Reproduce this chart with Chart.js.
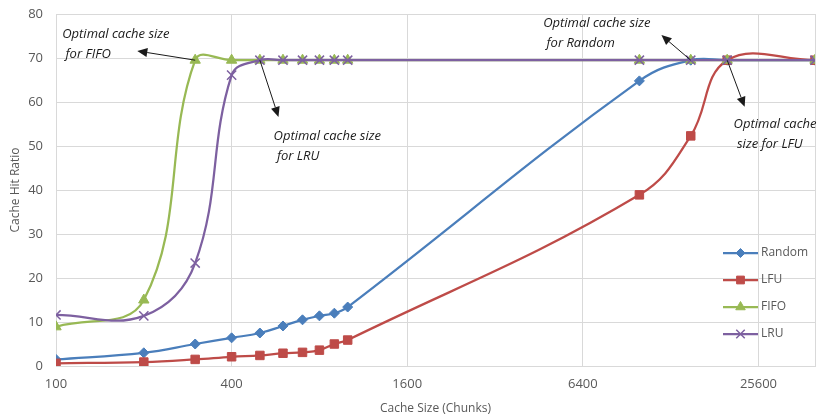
<!DOCTYPE html>
<html>
<head>
<meta charset="utf-8">
<script src="https://cdn.jsdelivr.net/npm/chart.js@4.4.0/dist/chart.umd.min.js"></script>
<style>
  html, body { margin: 0; padding: 0; background: #fff; }
  #wrap { width: 827px; height: 417px; }
</style>
</head>
<body>
<div id="wrap"><canvas id="hitChart" width="827" height="417"></canvas></div>
<script>
// data
const cacheSizes = [100, 200, 300, 400, 500, 600, 700, 800, 900, 1000, 10000, 15000, 20000, 40000];
const randomHits = [1.5, 3.0, 5.0, 6.4, 7.5, 9.1, 10.5, 11.4, 12.0, 13.4, 64.8, 69.5, 69.5, 69.5];
const lfuHits    = [0.6, 0.9, 1.5, 2.1, 2.4, 2.9, 3.1, 3.6, 5.0, 5.9, 38.9, 52.3, 69.5, 69.5];
const fifoHits   = [8.9, 15.0, 69.5, 69.5, 69.5, 69.5, 69.5, 69.5, 69.5, 69.5, 69.5, 69.5, 69.5, 69.5];
const lruHits    = [11.6, 11.4, 23.4, 66.1, 69.5, 69.5, 69.5, 69.5, 69.5, 69.5, 69.5, 69.5, 69.5, 69.5];
const seriesNames = ['Random', 'LFU', 'FIFO', 'LRU'];
const xTickValues = [100, 400, 1600, 6400, 25600];
const xMax = 40000;
const yTickStep = 10;

// 注記（テキストと矢印）: 位置はデータ座標
const notes = [
  { lines: ['Optimal cache size', ' for FIFO'], textAt: [105, 75.5], headAt: [190, 71.6], tail: [300, fifoHits[2]] },
  { lines: ['Optimal cache size', ' for LRU'], textAt: [557, 52.3], headAt: [579, 56.6], tail: [500, lruHits[4]] },
  { lines: ['Optimal cache size', ' for Random'], textAt: [4679, 77.8], headAt: [11900, 75.2], tail: [15000, randomHits[11]] },
  { lines: ['Optimal cache', ' size for LFU'], textAt: [21040, 55.0], headAt: [22950, 58.9], tail: [20000, lfuHits[12]] }
];

const colors = ['#4a7ebb', '#be4b48', '#98b954', '#7d60a0'];
const markers = [
  { style: 'rectRot', radius: 5 },
  { style: 'rect', radius: 6 },
  { style: 'triangle', radius: 6 },
  { style: 'crossRot', radius: 6.5 }
];
const allHits = [randomHits, lfuHits, fifoHits, lruHits];

const datasets = seriesNames.map((name, i) => ({
  label: name,
  data: cacheSizes.map((x, j) => ({ x: x, y: allHits[i][j] })),
  borderColor: colors[i],
  backgroundColor: colors[i],
  borderWidth: 2.25,
  tension: 0.4,
  pointStyle: markers[i].style,
  pointRadius: markers[i].radius,
  pointBorderWidth: markers[i].style === 'crossRot' ? 1.5 : 1,
  pointBackgroundColor: colors[i],
  pointBorderColor: colors[i],
  order: 4 - i
}));

// 注記と凡例を描くプラグイン
const overlayPlugin = {
  id: 'overlay',
  afterDatasetsDraw(chart) {
    const ctx = chart.ctx;
    const xs = chart.scales.x, ys = chart.scales.y;
    const area = chart.chartArea;
    ctx.save();

    // annotations
    ctx.font = 'italic 13px "Open Sans"';
    ctx.textBaseline = 'middle';
    ctx.textAlign = 'left';
    notes.forEach(n => {
      const tx = xs.getPixelForValue(n.textAt[0]);
      const ty = ys.getPixelForValue(n.textAt[1]);
      ctx.fillStyle = '#1a1a1a';
      n.lines.forEach((line, k) => ctx.fillText(line, tx, ty + k * 20));

      const x0 = xs.getPixelForValue(n.tail[0]), y0 = ys.getPixelForValue(n.tail[1]);
      const x1 = xs.getPixelForValue(n.headAt[0]), y1 = ys.getPixelForValue(n.headAt[1]);
      const ang = Math.atan2(y1 - y0, x1 - x0);
      const len = 10, half = 4.5;
      const bx = x1 - len * Math.cos(ang), by = y1 - len * Math.sin(ang);
      ctx.strokeStyle = '#1a1a1a';
      ctx.lineWidth = 1;
      ctx.beginPath();
      ctx.moveTo(x0, y0);
      ctx.lineTo(bx, by);
      ctx.stroke();
      ctx.beginPath();
      ctx.moveTo(x1, y1);
      ctx.lineTo(bx + half * Math.sin(ang), by - half * Math.cos(ang));
      ctx.lineTo(bx - half * Math.sin(ang), by + half * Math.cos(ang));
      ctx.closePath();
      ctx.fill();
    });

    // legend
    ctx.font = '12px "Open Sans"';
    seriesNames.forEach((name, i) => {
      const y = area.top + 239 + i * 27;
      const lx = area.right - 92;
      ctx.strokeStyle = colors[i];
      ctx.lineWidth = 2.25;
      ctx.beginPath();
      ctx.moveTo(lx, y);
      ctx.lineTo(lx + 35, y);
      ctx.stroke();
      ctx.fillStyle = colors[i];
      ctx.lineWidth = markers[i].style === 'crossRot' ? 1.5 : 1;
      Chart.helpers.drawPoint(ctx, {
        pointStyle: markers[i].style, radius: markers[i].radius - 0.5, rotation: 0, borderWidth: ctx.lineWidth
      }, lx + 17.5, y);
      ctx.fillStyle = '#595959';
      ctx.fillText(name, lx + 38, y);
    });
    ctx.restore();
  }
};

new Chart(document.getElementById('hitChart').getContext('2d'), {
  type: 'line',
  data: { datasets: datasets },
  options: {
    responsive: false,
    animation: false,
    layout: { padding: { top: 14, right: 12, left: 0, bottom: 0 } },
    plugins: { legend: { display: false }, tooltip: { enabled: false } },
    scales: {
      x: {
        type: 'logarithmic',
        min: 100,
        max: xMax,
        afterBuildTicks: scale => {
          scale.ticks = xTickValues.concat([xMax]).map(v => ({ value: v }));
        },
        afterFit: scale => { scale.height = 51; },
        ticks: {
          autoSkip: false,
          maxRotation: 0,
          padding: 10,
          color: '#595959',
          font: { family: 'Open Sans', size: 13 },
          callback: v => (xTickValues.includes(v) ? String(v) : '')
        },
        grid: { color: '#d9d9d9', drawTicks: false },
        border: { color: '#d9d9d9' },
        title: {
          display: true,
          text: 'Cache Size (Chunks)',
          color: '#595959',
          font: { family: 'Open Sans', size: 12 },
          padding: { top: 0, bottom: 1 }
        }
      },
      y: {
        min: 0,
        max: 80,
        afterFit: scale => {
          scale.width = 56;
          scale.paddingTop = 0;
          scale.paddingBottom = 0;
        },
        ticks: {
          stepSize: yTickStep,
          padding: 13,
          color: '#595959',
          font: { family: 'Open Sans', size: 13 }
        },
        grid: { color: '#d9d9d9', drawTicks: false },
        border: { color: '#d9d9d9' },
        title: {
          display: true,
          text: 'Cache Hit Ratio',
          color: '#595959',
          font: { family: 'Open Sans', size: 12 },
          padding: { top: 8, bottom: 0 }
        }
      }
    }
  },
  plugins: [overlayPlugin]
});
</script>
</body>
</html>
